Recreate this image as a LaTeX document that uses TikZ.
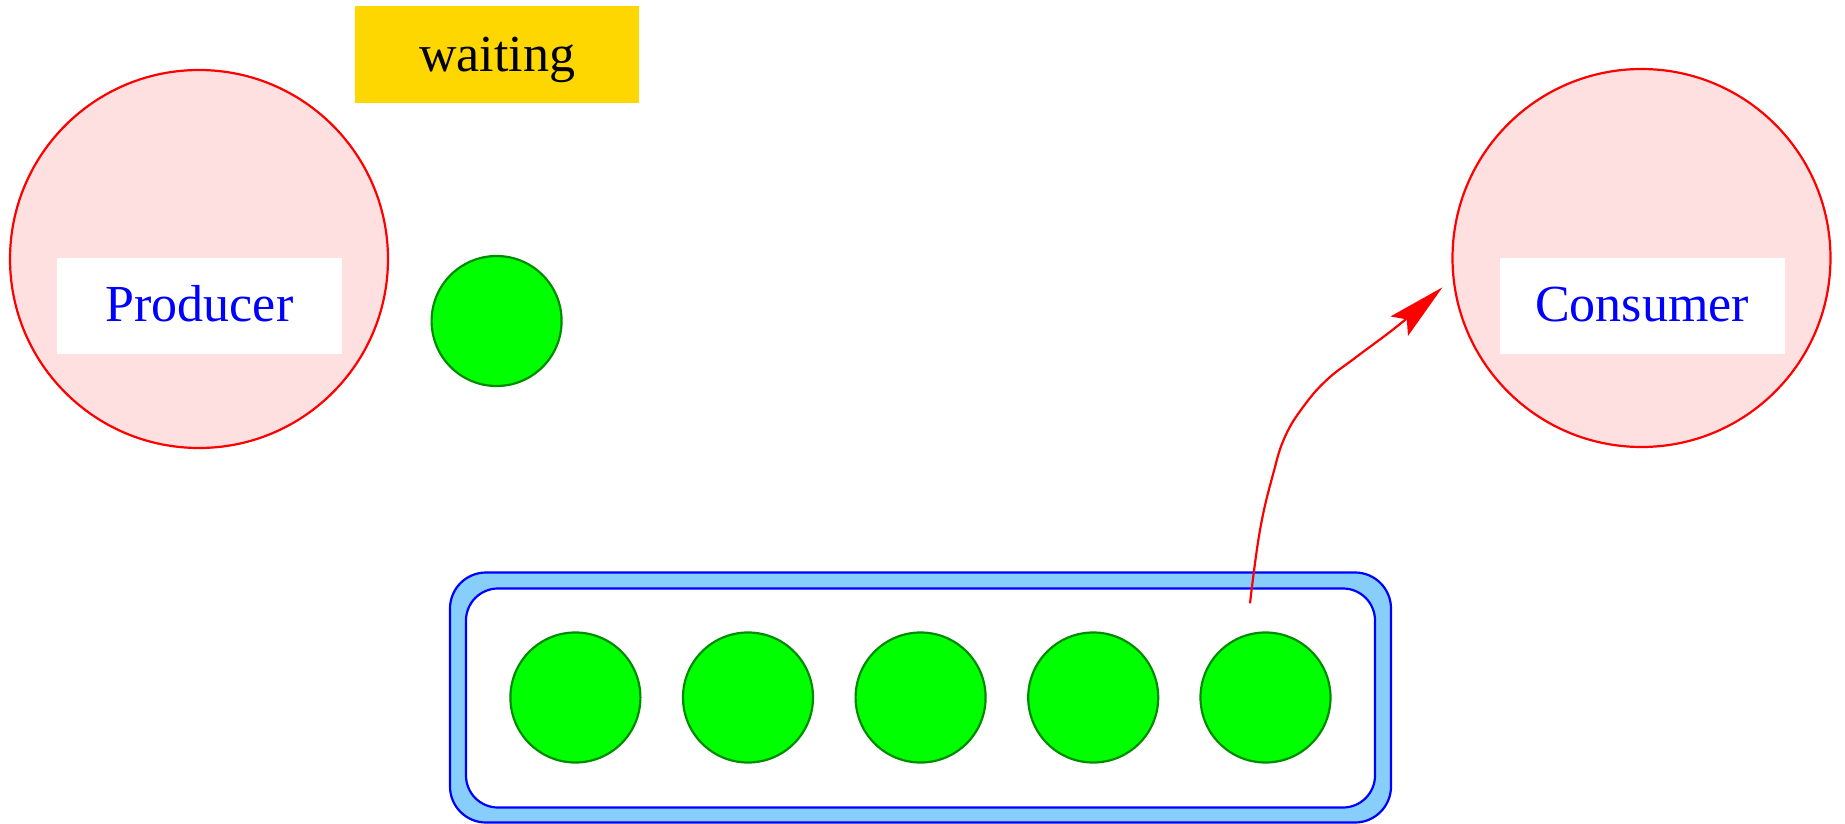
\documentclass[tikz,border=0pt]{standalone}
\usepackage{fontspec}
\setmainfont{Liberation Serif}
\usetikzlibrary{arrows.meta}
\definecolor{pinkfill}{RGB}{255,224,224}
\definecolor{ballgreen}{RGB}{0,255,0}
\definecolor{balledge}{RGB}{0,140,0}
\definecolor{bufblue}{RGB}{135,206,250}
\definecolor{goldbox}{RGB}{255,215,0}
\tikzset{
  actor/.style={circle, draw=red, fill=pinkfill, line width=2.2pt, minimum size=378pt, inner sep=0pt},
  actorlabel/.style={rectangle, fill=white, minimum width=285pt, minimum height=96pt, inner sep=0pt,
    text=blue, font=\fontsize{52}{60}\selectfont, text height=31.4pt, text depth=0pt},
  ball/.style={circle, draw=balledge, fill=ballgreen, line width=2.2pt, minimum size=130pt, inner sep=0pt},
  waitbox/.style={rectangle, fill=goldbox, minimum width=284pt, minimum height=97pt, inner sep=0pt,
    text=black, font=\fontsize{52}{60}\selectfont, text height=34.4pt, text depth=0pt},
  flow/.style={draw=red, line width=2.2pt, -{Stealth[length=58pt, width=26pt, inset=10pt]}},
}
\begin{document}
\begin{tikzpicture}[x=1pt, y=-1pt]
\useasboundingbox (0,0) rectangle (1845,824);
% actors
\node[actor] (prod) at (199,259) {};
\node[actor] (cons) at (1641.5,258) {};
\node[actorlabel] (prodlabel) at (199.5,306) {Producer};
\node[actorlabel] (conslabel) at (1642,306) {Consumer};
% waiting
\node[waitbox] (wait) at (497,54.5) {waiting};
\node[ball] (waitball) at (496.6,321) {};
% buffer
\draw[draw=blue, fill=bufblue, line width=2.2pt, rounded corners=36pt] (450,572.5) rectangle (1391,822.5);
\draw[draw=blue, fill=white, line width=2.2pt, rounded corners=32pt] (466,588.5) rectangle (1375,807.5);
\foreach \i/\x in {1/575.4, 2/748, 3/920.6, 4/1093.2, 5/1265.5} {
  \node[ball] (b\i) at (\x,697.5) {};
}
% flow arrow
\coordinate (start) at (1250,603.3);
\coordinate (tip) at (1442.5,287.3);
\draw[flow] plot[smooth, tension=0.7] coordinates {(start) (1260,530) (1273.3,473.3) (1285,436.7) (1303.3,406.7) (1326.7,380) (1356.7,356.7) (1400,324) (tip)};
\end{tikzpicture}
\end{document}
